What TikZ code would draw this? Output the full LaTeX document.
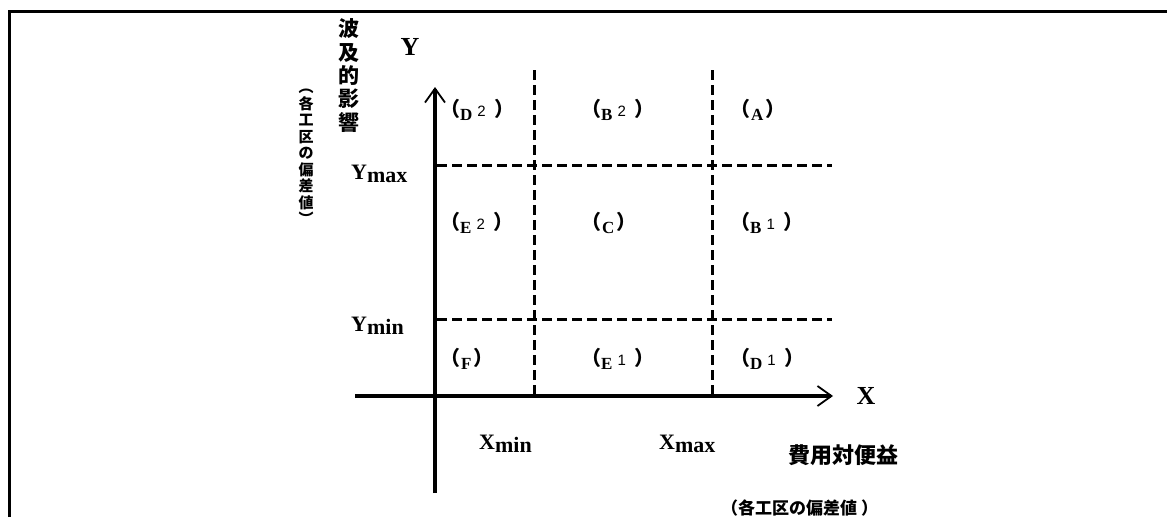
\documentclass[tikz,border=0pt]{standalone}
\usepackage{fontspec}
\setmainfont{Liberation Serif}
\setsansfont{Liberation Sans}
\newfontfamily\cjk{Noto Sans CJK JP}
\usetikzlibrary{arrows.meta}
\newcommand\lpar{{\cjk\bfseries\fontsize{20}{20}\selectfont （}}
\newcommand\rpar{{\cjk\bfseries\fontsize{20}{20}\selectfont ）}}
\newcommand\rlet[1]{\raisebox{-4pt}{\bfseries\fontsize{17}{17}\selectfont #1}}
\newcommand\rglab[2]{\lpar\rlet{#1}\hspace{5pt}{\sffamily\fontsize{15}{15}\selectfont #2}\hspace{9pt}\rpar}
\newcommand\rgone[1]{\lpar\hspace{1pt}\rlet{#1}\hspace{2pt}\rpar}
\begin{document}
\begin{tikzpicture}[x=1pt,y=-1pt,
  frame/.style={line width=3pt},
  axis/.style={line width=4pt},
  tip/.style={-{Straight Barb[length=14pt,width=20pt,line width=1.8pt]}},
  gridline/.style={line width=3pt, dash pattern=on 10pt off 5pt},
  lab/.style={font=\bfseries\fontsize{22}{24}\selectfont, inner sep=0pt},
  biglab/.style={font=\bfseries\fontsize{26}{28}\selectfont, inner sep=0pt},
  reg/.style={inner sep=0pt, anchor=base west},
  cjbig/.style={font=\cjk\bfseries\fontsize{21}{23.3}\selectfont, inner sep=0pt, align=center},
  cjsmall/.style={font=\cjk\bfseries\fontsize{15}{16.5}\selectfont, inner sep=0pt, align=center}]
\useasboundingbox (0,0) rectangle (1167,517);
\fill[white] (0,0) rectangle (1167,517);
% frame
\draw[frame] (9,517) -- (9,11.5) -- (1167,11.5);
% coordinates
\coordinate (x1t) at (534,70);  \coordinate (x1b) at (534,397);
\coordinate (x2t) at (712,70);  \coordinate (x2b) at (712,397);
\coordinate (y1l) at (437,165); \coordinate (y1r) at (832,165);
\coordinate (y2l) at (437,319); \coordinate (y2r) at (832,319);
\coordinate (vb) at (435,493);  \coordinate (vt) at (435,87);
\coordinate (hl) at (355,396);  \coordinate (hr) at (833,396);
% dashed grid
\draw[gridline] (x1t) -- (x1b);
\draw[gridline] (x2t) -- (x2b);
\draw[gridline] (y1l) -- (y1r);
\draw[gridline] (y2l) -- (y2r);
% axes
\draw[axis,tip] (vb) -- (vt);
\draw[axis,tip] (hl) -- (hr);
% axis labels
\node[biglab] (Y) at (410,47) {Y};
\node[biglab] (X) at (866,396) {X};
\node[lab,anchor=base west] (ymax) at (351,179) {Y\raisebox{-3pt}{max}};
\node[lab,anchor=base west] (ymin) at (351,331) {Y\raisebox{-3pt}{min}};
\node[lab,anchor=base west] (xmin) at (479,449) {X\raisebox{-3pt}{min}};
\node[lab,anchor=base west] (xmax) at (659,449) {X\raisebox{-3pt}{max}};
% japanese labels
\node[cjbig] (yname) at (349,75.5) {波\\及\\的\\影\\響};
\node[cjsmall] (ydev) at (306,157) {︵\\各\\工\\区\\の\\偏\\差\\値\\︶};
\node[font=\cjk\bfseries\fontsize{22}{24}\selectfont, inner sep=0pt] (xname) at (843,455) {費用対便益};
\node[font=\cjk\bfseries\fontsize{17}{18}\selectfont, inner sep=0pt, anchor=west] (xdev) at (721,508) {（各工区の偏差値 ）};
% region labels
\node[reg] (D2) at (440,116) {\rglab{D}{2}};
\node[reg] (B2) at (581,116) {\rglab{B}{2}};
\node[reg] (A)  at (730,116) {\rgone{A}};
\node[reg] (E2) at (440,229) {\rglab{E}{2}};
\node[reg] (C)  at (581,229) {\rgone{C}};
\node[reg] (B1) at (730,229) {\rglab{B}{1}};
\node[reg] (F)  at (440,365) {\rgone{F}};
\node[reg] (E1) at (581,365) {\rglab{E}{1}};
\node[reg] (D1) at (730,365) {\rglab{D}{1}};
\end{tikzpicture}
\end{document}
